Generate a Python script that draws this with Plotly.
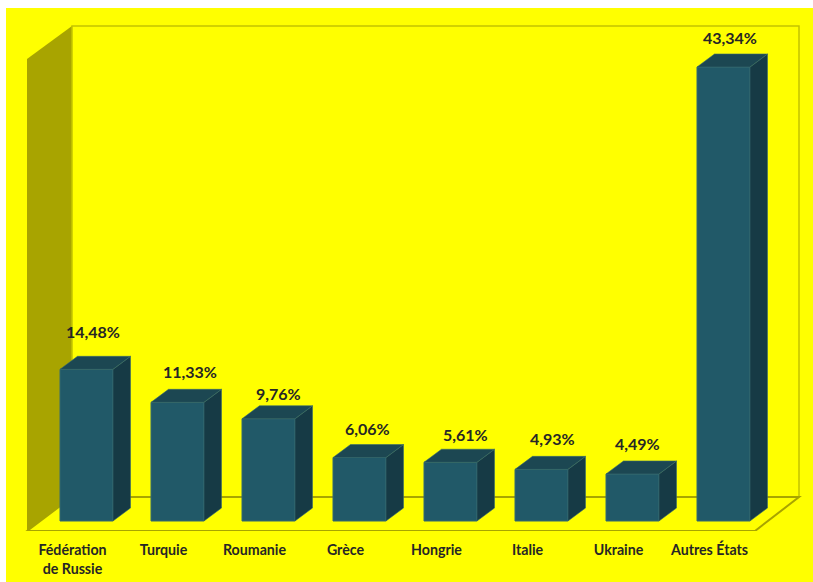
import plotly.graph_objects as go

categories = ["Fédération<br>de Russie", "Turquie", "Roumanie", "Grèce", "Hongrie", "Italie", "Ukraine", "Autres États"]
values = [14.48, 11.33, 9.76, 6.06, 5.61, 4.93, 4.49, 43.34]
value_labels = ["14,48%", "11,33%", "9,76%", "6,06%", "5,61%", "4,93%", "4,49%", "43,34%"]

# layout constants (not data)
W, H = 813, 582
PX_X, PX_Y = 91.0, 10.475      # pixels per category / per percent
BASE_PX_X, BASE_PX_Y = 86.5, 521.0
FLOOR_PX = 531.0
label_dx = [6.5, 12.5, 9.5, 7.5, 14.5, 10.5, 4.5, 6.5]
label_dy = [38, 31, 25, 29, 28, 31, 30, 30]

xr = [-BASE_PX_X / PX_X, (W - BASE_PX_X) / PX_X]
yr = [-(FLOOR_PX - BASE_PX_Y) / PX_Y, BASE_PX_Y / PX_Y]
X = lambda px: (px - BASE_PX_X) / PX_X
Y = lambda py: (BASE_PX_Y - py) / PX_Y

bar_w = 53 / PX_X
ddx, ddy = 17.5 / PX_X, 13 / PX_Y
xs = list(range(len(values)))

FRONT, TOP, SIDE = "#215968", "#1c4752", "#163a45"
EDGE = "#356a6e"
INK = "#262626"
WALL = "#a8a400"
LINE = "#c4c400"

fig = go.Figure()
fig.add_trace(go.Bar(x=xs, y=values, width=bar_w, marker=dict(color=FRONT, line=dict(color=EDGE, width=1)),
                     hoverinfo="skip", showlegend=False))

side_x, side_y, top_x, top_y = [], [], [], []
for i, v in zip(xs, values):
    r, l = i + bar_w / 2, i - bar_w / 2
    side_x += [r, r + ddx, r + ddx, r, r, None]
    side_y += [0, ddy, v + ddy, v, 0, None]
    top_x += [l, l + ddx, r + ddx, r, l, None]
    top_y += [v, v + ddy, v + ddy, v, v, None]
for px, py, col in [(side_x, side_y, SIDE), (top_x, top_y, TOP)]:
    fig.add_trace(go.Scatter(x=px, y=py, mode="lines", fill="toself", fillcolor=col,
                             line=dict(color=EDGE, width=0.6), hoverinfo="skip", showlegend=False))

def poly(pts):
    return "M " + " L ".join(f"{X(a):.5f},{Y(b):.5f}" for a, b in pts) + " Z"

shapes = [
    dict(type="rect", xref="paper", yref="paper", x0=6 / W, x1=1, y0=0, y1=1 - 8 / H,
         fillcolor="#ffff00", line=dict(width=0), layer="below"),
    dict(type="path", xref="x", yref="y", path=poly([(27, 59), (72, 26), (72, 497), (27, 531)]),
         fillcolor=WALL, line=dict(width=0), layer="below"),
    dict(type="path", xref="x", yref="y", path=poly([(72, 26), (799, 26), (799, 497), (72, 497)]),
         fillcolor="rgba(0,0,0,0)", line=dict(color=LINE, width=1.5), layer="below"),
    dict(type="path", xref="x", yref="y", path=poly([(27, 531), (72, 497), (799, 497), (755, 531)]),
         fillcolor="#ffff00", line=dict(color=WALL, width=2), layer="below"),
]

annotations = [
    dict(x=i, y=v, text=f"<b>{t}</b>", showarrow=False, xshift=dx, yshift=dy,
         font=dict(family="Lato, Carlito, sans-serif", size=16, color=INK))
    for i, v, t, dx, dy in zip(xs, values, value_labels, label_dx, label_dy)
]

fig.update_layout(
    width=W, height=H, margin=dict(l=0, r=0, t=0, b=0), paper_bgcolor="white", plot_bgcolor="rgba(0,0,0,0)",
    barmode="overlay", showlegend=False, shapes=shapes, annotations=annotations,
    xaxis=dict(range=xr, domain=[0, 1], tickmode="array", tickvals=[i - 14 / PX_X for i in xs],
               ticktext=[f"<b>{c}</b>" for c in categories], ticks="", showgrid=False, zeroline=False,
               showline=False, ticklabelstandoff=9, fixedrange=True,
               tickfont=dict(family="Lato, Carlito, sans-serif", size=14.2, color=INK)),
    yaxis=dict(range=yr, domain=[(H - FLOOR_PX) / H, 1], visible=False, fixedrange=True),
)
fig.write_html("out.html", config=dict(displayModeBar=False),
               post_script="document.body.style.margin='0';document.body.style.overflow='hidden';")
